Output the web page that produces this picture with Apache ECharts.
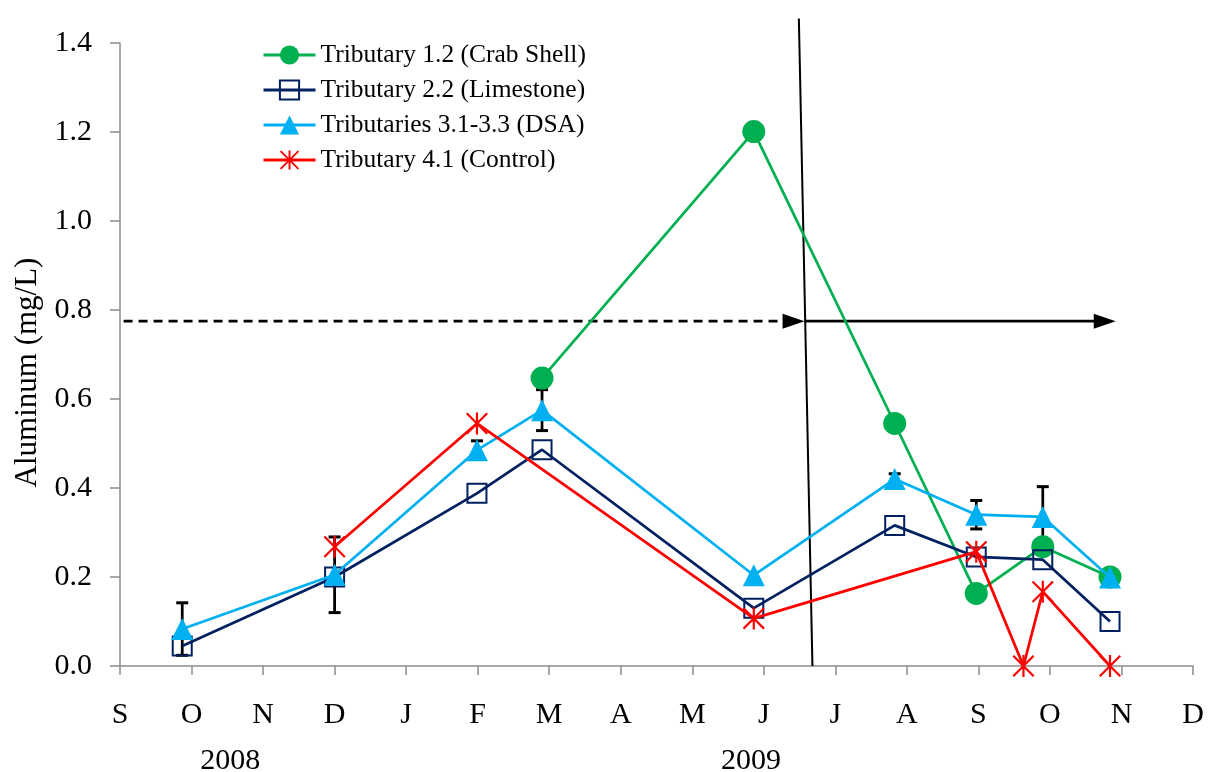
<!DOCTYPE html>
<html><head><meta charset="utf-8">
<script src="https://cdn.jsdelivr.net/npm/echarts@6/dist/echarts.min.js"></script>
<style>html,body{margin:0;padding:0;background:#fff}#c{width:1208px;height:772px}</style>
</head><body><div id="c"></div>
<script>
// ---- data (x = months since 1 Sep 2008) ----
const monthLabels = ['S','O','N','D','J','F','M','A','M','J','J','A','S','O','N','D'];
const yearLabels = ['2008','2009'];
const yearPos = [1.54, 8.82];

const seriesNames = ['Tributary 1.2 (Crab Shell)','Tributary 2.2 (Limestone)','Tributaries 3.1-3.3 (DSA)','Tributary 4.1 (Control)'];

const crabX = [5.90, 8.86, 10.83, 11.97, 12.90, 13.84];
const crabY = [0.647, 1.201, 0.545, 0.163, 0.268, 0.200];

const limeX = [0.87, 3.00, 4.99, 5.90, 8.86, 10.83, 11.97, 12.90, 13.84];
const limeY = [0.045, 0.200, 0.388, 0.486, 0.130, 0.316, 0.245, 0.239, 0.100];

const dsaX = [0.87, 3.00, 4.99, 5.90, 8.86, 10.83, 11.97, 12.90, 13.84];
const dsaY = [0.083, 0.205, 0.485, 0.575, 0.204, 0.420, 0.340, 0.335, 0.199];
const dsaErr = [0.059, 0.085, 0.021, 0.046, null, 0.012, 0.032, 0.068, null];

const ctrlX = [3.00, 4.99, 8.86, 11.97, 12.63, 12.90, 13.84];
const ctrlY = [0.268, 0.545, 0.107, 0.257, 0.000, 0.167, 0.000];

// annotation: arrows at y = 0.775 and slanted divider line
const arrowY = 0.775;
const arrowDashed = [0.05, 9.57];
const arrowSolid = [9.57, 13.92];
const dividerTop = [9.49, 1.455];
const dividerBottom = [9.68, 0];

// ---- styles ----
const FONT = '"Liberation Serif","Times New Roman",serif';
const GREEN = '#00B050', NAVY = '#002060', CYAN = '#00B0F0', RED = '#FF0000', AXIS = '#8c8c8c';
const STAR = 'path://M45,0L55,0L55,100L45,100Z M0,7L7,0L100,93L93,100Z M93,0L100,7L7,100L0,93Z';
const LW = 2.75;

const zip = (xs, ys) => xs.map((x, i) => [x, ys[i]]);
const errData = dsaX.map((x, i) => dsaErr[i] == null ? null : [x, dsaY[i] - dsaErr[i], dsaY[i] + dsaErr[i]]).filter(d => d);

const chart = echarts.init(document.getElementById('c'));
const lineCommon = {type: 'line', animation: false, emphasis: {disabled: true}, silent: true};

chart.setOption({
  animation: false,
  backgroundColor: '#fff',
  grid: {left: 120, right: 15, top: 43, bottom: 106},
  legend: {
    orient: 'vertical', left: 262, top: 42, padding: 0, itemWidth: 52, itemHeight: 24, itemGap: 9,
    lineStyle: {width: 3},
    textStyle: {fontFamily: FONT, fontSize: 25.5, color: '#000'},
    data: seriesNames
  },
  xAxis: {
    type: 'value', min: 0, max: 15, interval: 1,
    axisLine: {lineStyle: {color: AXIS, width: 1.5}},
    axisTick: {show: true, length: 9, lineStyle: {color: AXIS, width: 1.5}},
    axisLabel: {formatter: v => monthLabels[v] || '', fontFamily: FONT, fontSize: 30, color: '#000', margin: 34, showMinLabel: true, showMaxLabel: true},
    splitLine: {show: false}
  },
  yAxis: {
    type: 'value', min: 0, max: 1.4, interval: 0.2,
    name: 'Aluminum (mg/L)', nameLocation: 'middle', nameRotate: 90, nameGap: 76,
    nameTextStyle: {fontFamily: FONT, fontSize: 31, color: '#000', padding: [0, 36, 0, 0]},
    axisLine: {show: true, lineStyle: {color: AXIS, width: 1.5}},
    axisTick: {show: true, length: 10, lineStyle: {color: AXIS, width: 1.5}},
    axisLabel: {formatter: v => v.toFixed(1), fontFamily: FONT, fontSize: 30, color: '#000', margin: 28},
    splitLine: {show: false}
  },
  series: [
    {
      type: 'custom', name: 'err', z: 1, silent: true,
      encode: {x: 0, y: [1, 2]},
      data: errData,
      renderItem: (params, api) => {
        const lo = api.coord([api.value(0), api.value(1)]);
        const hi = api.coord([api.value(0), api.value(2)]);
        const c = 6;
        return {type: 'group', children: [
          {type: 'line', shape: {x1: lo[0], y1: lo[1], x2: hi[0], y2: hi[1]}, style: {stroke: '#000', lineWidth: 2.75}},
          {type: 'line', shape: {x1: lo[0] - c, y1: lo[1], x2: lo[0] + c, y2: lo[1]}, style: {stroke: '#000', lineWidth: 3}},
          {type: 'line', shape: {x1: hi[0] - c, y1: hi[1], x2: hi[0] + c, y2: hi[1]}, style: {stroke: '#000', lineWidth: 3}}
        ]};
      }
    },
    {
      type: 'custom', name: 'arrows', z: 1, silent: true, clip: false,
      encode: {x: [0, 1], y: 2},
      data: [[arrowDashed[0], arrowDashed[1], arrowY, 1], [arrowSolid[0], arrowSolid[1], arrowY, 0]],
      renderItem: (params, api) => {
        const p0 = api.coord([api.value(0), api.value(2)]);
        const p1 = api.coord([api.value(1), api.value(2)]);
        const dashed = api.value(3) === 1;
        const L = 22, W = 7.5;
        return {type: 'group', children: [
          {type: 'line', shape: {x1: p0[0], y1: p0[1], x2: p1[0] - L + 2, y2: p1[1]}, style: {stroke: '#000', lineWidth: 2.75, lineDash: dashed ? [9, 6] : null}},
          {type: 'polygon', shape: {points: [[p1[0], p1[1]], [p1[0] - L, p1[1] - W], [p1[0] - L, p1[1] + W]]}, style: {fill: '#000'}}
        ]};
      }
    },
    {
      type: 'custom', name: 'divider', z: 1, silent: true, clip: false,
      encode: {x: [0, 2], y: [1, 3]},
      data: [[dividerTop[0], dividerTop[1], dividerBottom[0], dividerBottom[1]]],
      renderItem: (params, api) => {
        const a = api.coord([api.value(0), api.value(1)]);
        const b = api.coord([api.value(2), api.value(3)]);
        return {type: 'line', shape: {x1: a[0], y1: a[1], x2: b[0], y2: b[1]}, style: {stroke: '#000', lineWidth: 2}};
      }
    },
    Object.assign({}, lineCommon, {
      name: seriesNames[0], z: 3, data: zip(crabX, crabY),
      symbol: 'circle', symbolSize: 23,
      lineStyle: {color: GREEN, width: LW}, itemStyle: {color: GREEN}
    }),
    Object.assign({}, lineCommon, {
      name: seriesNames[1], z: 4, data: zip(limeX, limeY),
      symbol: 'rect', symbolSize: 19,
      lineStyle: {color: NAVY, width: LW}, itemStyle: {color: 'rgba(255,255,255,0)', borderColor: NAVY, borderWidth: 2}
    }),
    Object.assign({}, lineCommon, {
      name: seriesNames[2], z: 5, data: zip(dsaX, dsaY),
      symbol: 'triangle', symbolSize: 22,
      lineStyle: {color: CYAN, width: LW}, itemStyle: {color: CYAN}
    }),
    Object.assign({}, lineCommon, {
      name: seriesNames[3], z: 6, data: zip(ctrlX, ctrlY),
      symbol: STAR, symbolSize: 22,
      lineStyle: {color: RED, width: LW}, itemStyle: {color: RED}
    })
  ]
});

chart.setOption({
  graphic: yearLabels.map((t, i) => ({
    type: 'text',
    x: chart.convertToPixel({xAxisIndex: 0}, yearPos[i]),
    y: 761,
    style: {text: t, font: '30px ' + FONT, textAlign: 'center', textVerticalAlign: 'middle', fill: '#000'}
  }))
});
</script></body></html>
